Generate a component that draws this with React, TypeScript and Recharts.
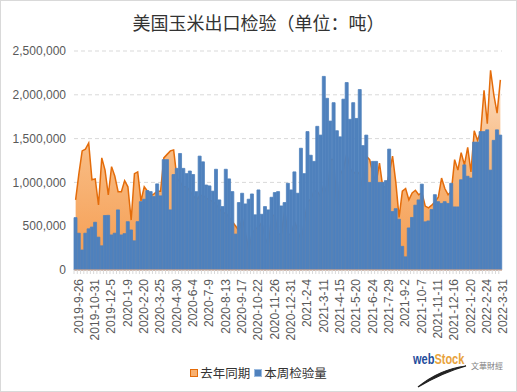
import { ComposedChart, Area, Bar, XAxis, YAxis, CartesianGrid } from 'recharts'

// weekly inspection dates (2020-2-13 is missing in the source)
const WEEKS = [
  '2019-9-26', '2019-10-3', '2019-10-10', '2019-10-17', '2019-10-24', '2019-10-31', '2019-11-7', '2019-11-14', '2019-11-21', '2019-11-28',
  '2019-12-5', '2019-12-12', '2019-12-19', '2019-12-26', '2020-1-2', '2020-1-9', '2020-1-16', '2020-1-23', '2020-1-30', '2020-2-6',
  '2020-2-20', '2020-2-27', '2020-3-5', '2020-3-12', '2020-3-19', '2020-3-25', '2020-4-2', '2020-4-9', '2020-4-16', '2020-4-23',
  '2020-4-30', '2020-5-7', '2020-5-14', '2020-5-21', '2020-5-28', '2020-6-4', '2020-6-11', '2020-6-18', '2020-6-25', '2020-7-2',
  '2020-7-9', '2020-7-16', '2020-7-23', '2020-7-30', '2020-8-6', '2020-8-13', '2020-8-20', '2020-8-27', '2020-9-3', '2020-9-10',
  '2020-9-17', '2020-9-24', '2020-10-1', '2020-10-8', '2020-10-15', '2020-10-22', '2020-10-29', '2020-11-5', '2020-11-12', '2020-11-19',
  '2020-11-26', '2020-12-3', '2020-12-10', '2020-12-17', '2020-12-24', '2020-12-31', '2021-1-7', '2021-1-14', '2021-1-21', '2021-1-28',
  '2021-2-4', '2021-2-11', '2021-2-18', '2021-2-25', '2021-3-4', '2021-3-11', '2021-3-18', '2021-3-25', '2021-4-1', '2021-4-8',
  '2021-4-15', '2021-4-22', '2021-4-29', '2021-5-6', '2021-5-13', '2021-5-20', '2021-5-27', '2021-6-3', '2021-6-10', '2021-6-17',
  '2021-6-24', '2021-7-1', '2021-7-8', '2021-7-15', '2021-7-22', '2021-7-29', '2021-8-5', '2021-8-12', '2021-8-19', '2021-8-26',
  '2021-9-2', '2021-9-9', '2021-9-16', '2021-9-23', '2021-9-30', '2021-10-7', '2021-10-14', '2021-10-21', '2021-10-28', '2021-11-4',
  '2021-11-11', '2021-11-18', '2021-11-25', '2021-12-2', '2021-12-9', '2021-12-16', '2021-12-23', '2021-12-30', '2022-1-6', '2022-1-13',
  '2022-1-20', '2022-1-27', '2022-2-3', '2022-2-10', '2022-2-17', '2022-2-24', '2022-3-3', '2022-3-10', '2022-3-17', '2022-3-24',
  '2022-3-31',
]

// 本周检验量 (tonnes)
const THIS_WEEK = [
  598000, 420000, 228000, 420000, 470000, 490000, 545000, 375000, 276000, 622000,
  624000, 400000, 420000, 686000, 400000, 415000, 552000, 457000, 333000, 552000,
  780000, 808000, 907000, 895000, 838000, 983000, 846000, 1260000, 1260000, 686000,
  1090000, 1160000, 1330000, 1160000, 1100000, 1130000, 1090000, 894000, 1300000, 1235000,
  970000, 960000, 900000, 1150000, 800000, 724000, 1150000, 1040000, 895000, 410000,
  770000, 876000, 754000, 808000, 868000, 630000, 914000, 636000, 724000, 686000,
  830000, 884000, 895000, 731000, 770000, 990000, 914000, 1120000, 876000, 1390000,
  1100000, 1580000, 1310000, 1240000, 1640000, 1540000, 2210000, 1960000, 1700000, 1910000,
  1590000, 1520000, 1950000, 2140000, 1720000, 1910000, 1730000, 2060000, 1420000, 1540000,
  1000000, 1240000, 1240000, 1000000, 1000000, 1020000, 1380000, 667000, 700000, 580000,
  270000, 150000, 480000, 600000, 740000, 800000, 980000, 550000, 560000, 690000,
  860000, 780000, 760000, 780000, 760000, 990000, 720000, 720000, 1030000, 1200000,
  1070000, 1050000, 1460000, 1460000, 1580000, 1580000, 1600000, 1140000, 1480000, 1600000,
  1540000,
]

// 去年同期 (tonnes)
const LAST_YEAR = [
  800000, 1100000, 1360000, 1380000, 1450000, 1030000, 1040000, 742000, 1280000, 1140000,
  856000, 1180000, 1070000, 894000, 894000, 1020000, 950000, 570000, 1100000, 1120000,
  790000, 950000, 900000, 850000, 870000, 900000, 900000, 1280000, 1320000, 1360000,
  1370000, 1050000, 1000000, 950000, 950000, 900000, 850000, 800000, 850000, 850000,
  820000, 800000, 780000, 750000, 700000, 650000, 650000, 600000, 550000, 500000,
  450000, 598000, 420000, 228000, 420000, 470000, 490000, 545000, 375000, 276000,
  622000, 624000, 400000, 420000, 686000, 400000, 415000, 552000, 457000, 333000,
  552000, 780000, 808000, 907000, 895000, 838000, 983000, 846000, 1260000, 1260000,
  686000, 1090000, 1160000, 1330000, 1160000, 1100000, 1130000, 1090000, 894000, 1300000,
  1260000, 1100000, 1000000, 1220000, 950000, 950000, 1100000, 1300000, 1000000, 600000,
  900000, 930000, 800000, 880000, 910000, 860000, 880000, 730000, 710000, 740000,
  780000, 830000, 1050000, 930000, 860000, 900000, 1260000, 1140000, 1340000, 1200000,
  1400000, 1120000, 1590000, 1480000, 1580000, 2050000, 1670000, 2280000, 2000000, 1790000,
  2170000,
]

const Y_TICKS = [0, 500000, 1000000, 1500000, 2000000, 2500000]

const BLUE = '#4f81bd'
const ORANGE_LINE = '#e46c0a'
const LABEL_COLOR = '#595959'
const FONT = '"Liberation Sans", "Noto Sans CJK SC", sans-serif'
const CJK_FONT = '"Noto Sans CJK SC", "Liberation Sans", sans-serif'

const data = WEEKS.map((week, i) => ({
  week,
  thisWeek: THIS_WEEK[i],
  lastYear: LAST_YEAR[i],
}))

interface DateTickProps {
  x?: number
  y?: number
  index?: number
  payload?: { value: string }
}

function DateTick({ x = 0, y = 0, index = 0, payload }: DateTickProps) {
  const edge = x - 1.6
  const tx = x + 3
  const ty = y + 9
  return (
    <g>
      <line x1={edge} y1={y} x2={edge} y2={y + 4} stroke="#d9d9d9" />
      {index % 5 === 0 && (
        <text
          x={tx}
          y={ty}
          dy={4}
          transform={`rotate(-90 ${tx} ${ty})`}
          textAnchor="end"
          fontSize={12}
          fill={LABEL_COLOR}
          fontFamily={FONT}
        >
          {payload?.value}
        </text>
      )}
    </g>
  )
}

function LegendItem({ label, fill, border }: { label: string; fill: string; border: string }) {
  return (
    <div style={{ display: 'flex', alignItems: 'center', gap: 2 }}>
      <span style={{ width: 6, height: 6, background: fill, border: `1px solid ${border}`, display: 'inline-block' }} />
      <span>{label}</span>
    </div>
  )
}

export default function App() {
  return (
    <div style={{ position: 'relative', width: 517, height: 392, background: '#fff', overflow: 'hidden' }}>
      <style>{'body { margin: 0; }'}</style>

      <div
        style={{
          position: 'absolute', left: 0, top: 10, width: 517, textAlign: 'center',
          fontFamily: CJK_FONT, fontSize: 18, color: '#333', lineHeight: '24px',
        }}
      >
        美国玉米出口检验（单位：吨）
      </div>

      <div style={{ position: 'absolute', left: 0, top: 0 }}>
        <ComposedChart
          width={517}
          height={392}
          data={data}
          margin={{ top: 51, right: 15, bottom: 42, left: 0 }}
          barCategoryGap={0}
          barGap={0}
        >
          <defs>
            <linearGradient id="lastYearFill" x1="0" y1="0" x2="0" y2="1">
              <stop offset="0%" stopColor="#fcdfc6" />
              <stop offset="45%" stopColor="#f8b97f" />
              <stop offset="100%" stopColor="#f59b4e" />
            </linearGradient>
          </defs>
          <CartesianGrid vertical={false} stroke="#d9d9d9" strokeDasharray="4 3" />
          <XAxis
            dataKey="week"
            interval={0}
            height={80}
            tickSize={0}
            tickMargin={0}
            tickLine={false}
            axisLine={{ stroke: '#f4b183' }}
            tick={<DateTick />}
          />
          <YAxis
            width={74}
            domain={[0, 2500000]}
            ticks={Y_TICKS}
            axisLine={false}
            tickLine={false}
            tick={{ fontSize: 12, fill: LABEL_COLOR, fontFamily: FONT }}
            tickFormatter={(v: number) => v.toLocaleString('en-US')}
          />
          <Area
            type="linear"
            dataKey="lastYear"
            stroke={ORANGE_LINE}
            strokeWidth={1.5}
            fill="url(#lastYearFill)"
            fillOpacity={1}
            isAnimationActive={false}
          />
          <Bar dataKey="thisWeek" fill={BLUE} stroke={BLUE} strokeWidth={0.8} isAnimationActive={false} />
        </ComposedChart>
      </div>

      {/* Legend */}
      <div
        style={{
          position: 'absolute', left: 0, top: 364, width: 517, display: 'flex', justifyContent: 'center',
          gap: 4, fontFamily: CJK_FONT, fontSize: 12.5, color: '#333', lineHeight: '18px',
        }}
      >
        <LegendItem label="去年同期" fill="#f8b070" border={ORANGE_LINE} />
        <LegendItem label="本周检验量" fill={BLUE} border="#9bbbe0" />
      </div>

      {/* watermark */}
      <svg style={{ position: 'absolute', left: 0, top: 0 }} width={517} height={392}>
        <text transform="translate(413 364) scale(1 1.4)" fontFamily={FONT} fontWeight="bold" fontSize={11}>
          <tspan fill="#1f4e9c">web</tspan>
          <tspan fill="#e8a33d">Stock</tspan>
        </text>
        <text x={471} y={369} fontFamily={CJK_FONT} fontSize={8} fill="#7f7f7f">
          文華財經
        </text>
        <path d="M418 387 Q440 369 466 366 Q444 372 418 387 Z" fill="#222" stroke="#222" strokeWidth={1.2} />
      </svg>

      <div style={{ position: 'absolute', left: 0, top: 0, width: 517, height: 392, boxSizing: 'border-box', border: '1px solid #d9d9d9', pointerEvents: 'none' }} />
    </div>
  )
}
